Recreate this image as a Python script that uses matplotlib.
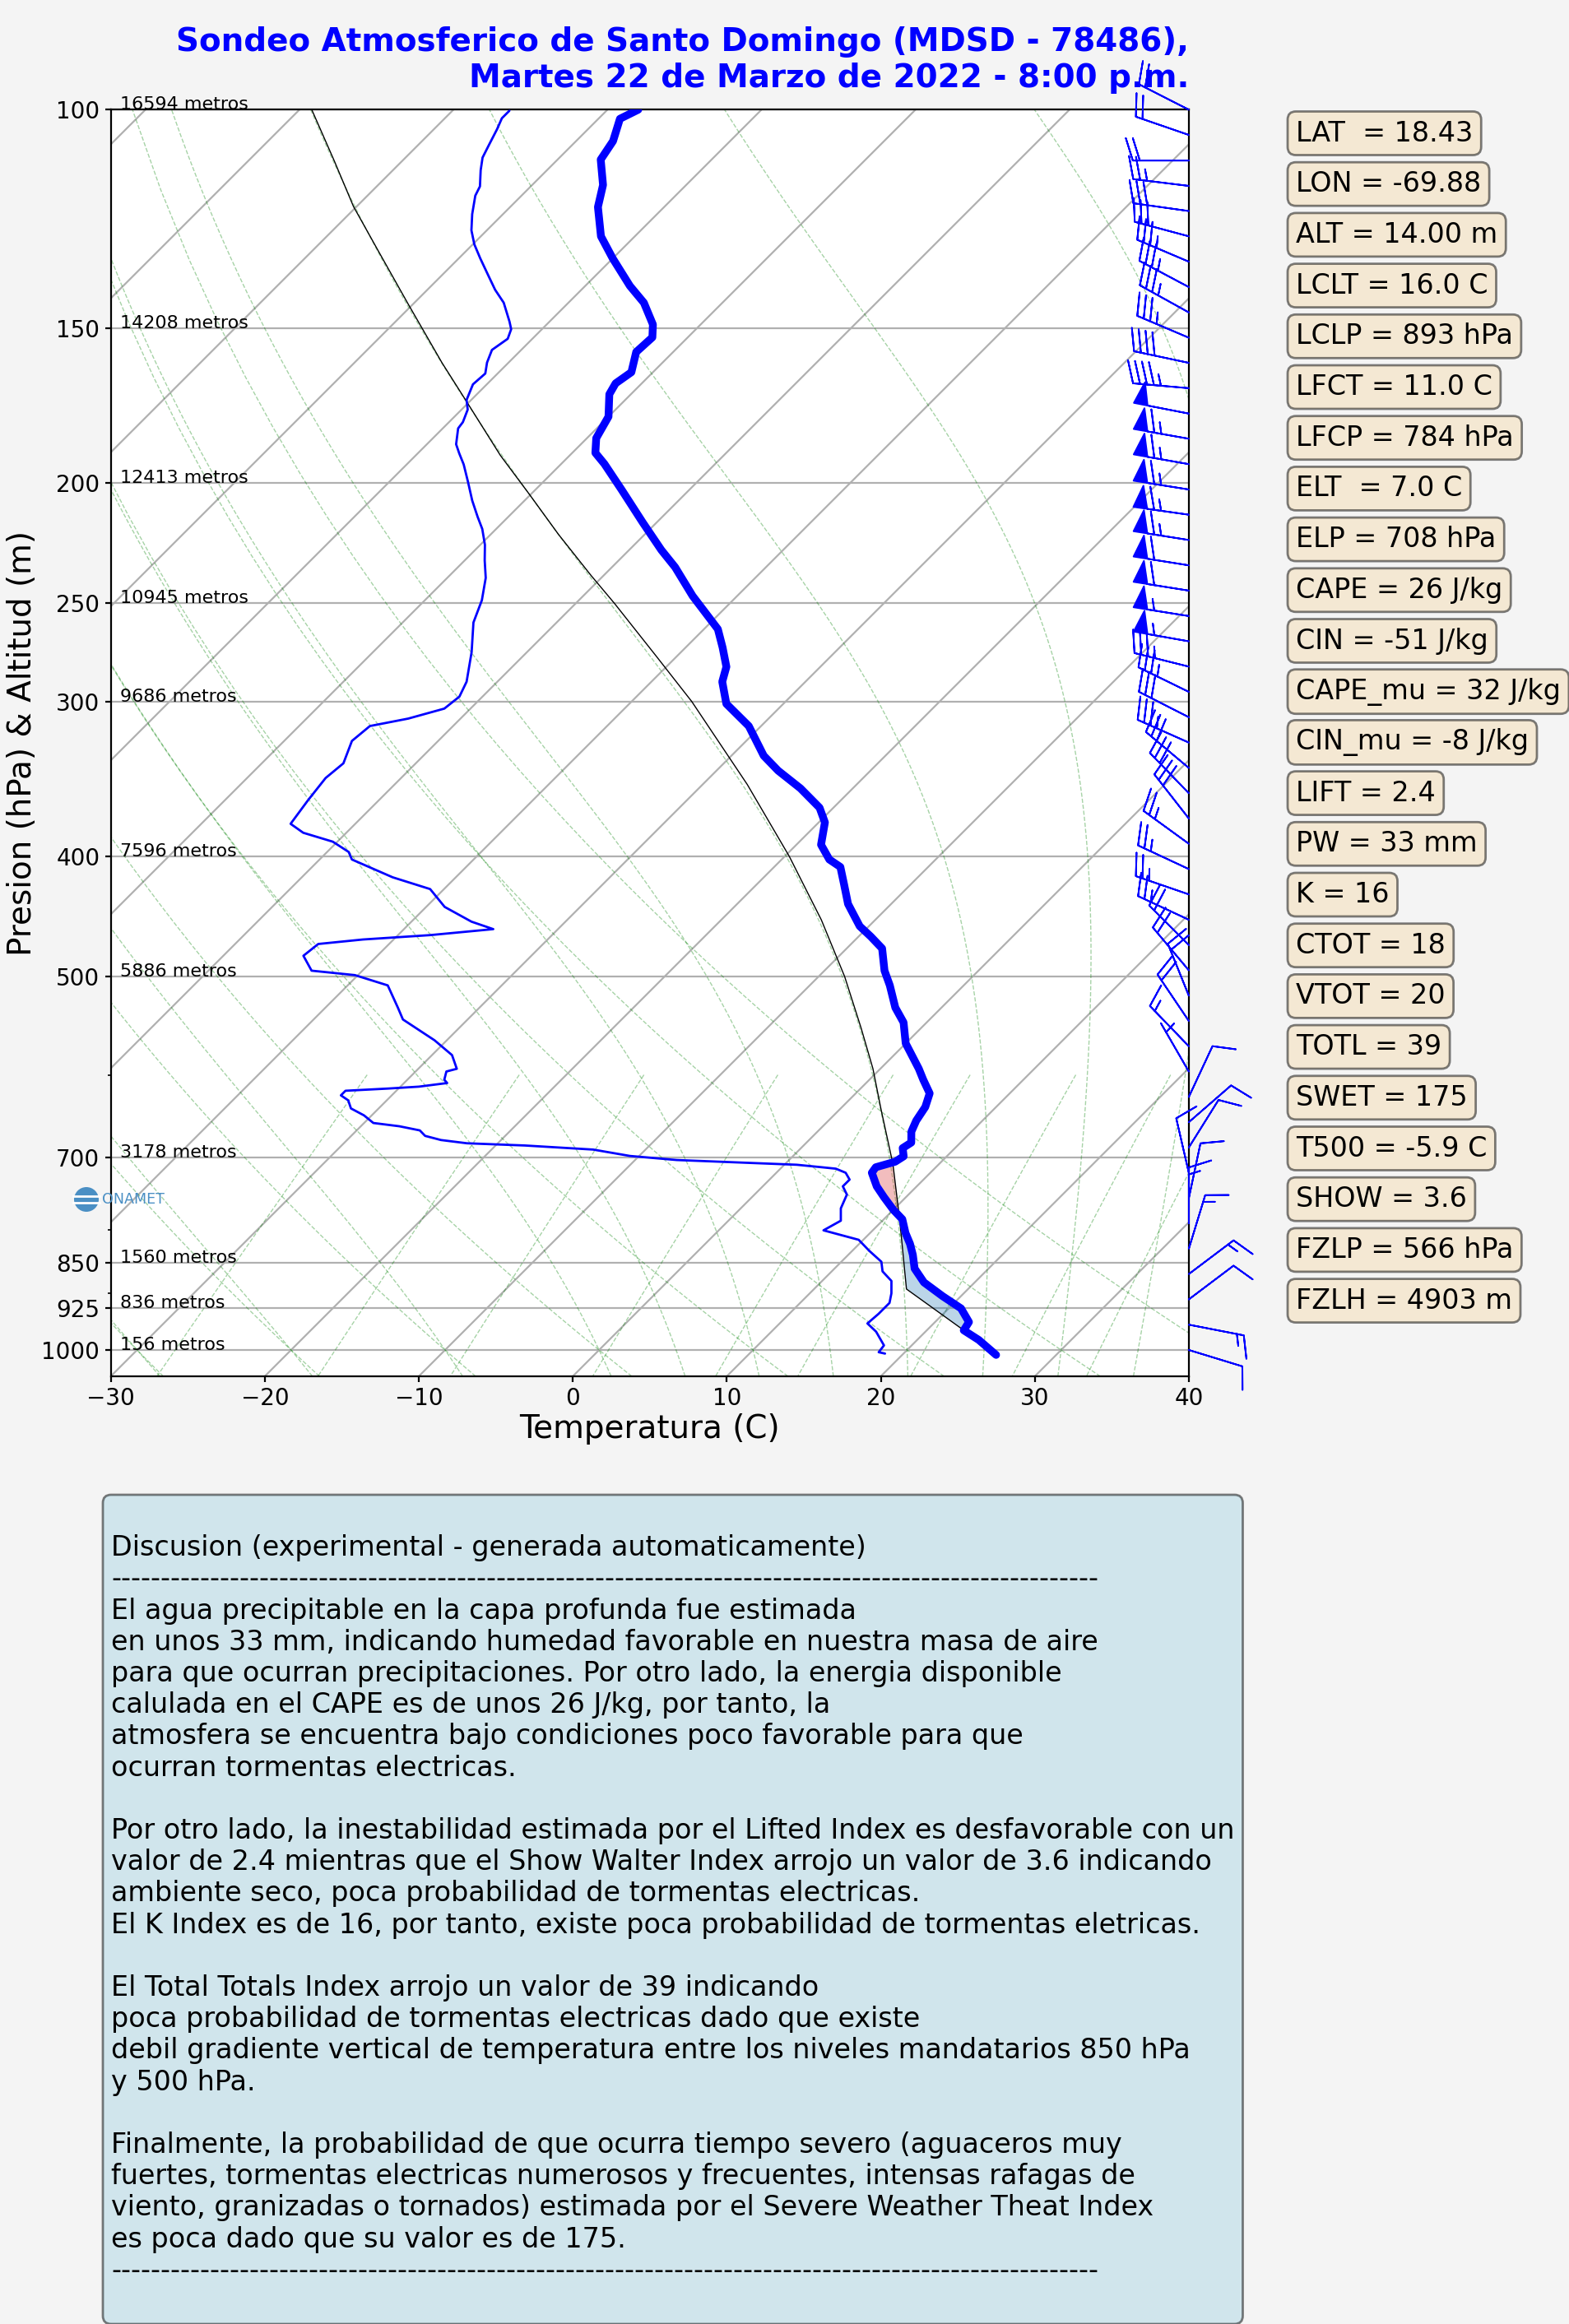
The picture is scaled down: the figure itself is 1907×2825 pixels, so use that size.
import numpy as np
import matplotlib
matplotlib.use("Agg")
import matplotlib.pyplot as plt
from matplotlib.ticker import FixedLocator, FixedFormatter, NullFormatter
from matplotlib.patches import Ellipse
from matplotlib.lines import Line2D

# ---------------- sounding data ----------------
# Temperature (thick blue line): pressure hPa, temperature C
temp_p = [1009.2, 981.5, 964.1, 949.4, 925.7, 904.8, 882.0, 859.7, 838.2, 821.2,
          804.8, 784.5, 770.8, 753.3, 738.0, 719.6, 712.3, 705.0, 698.0, 687.4,
          680.4, 666.8, 653.3, 636.9, 621.0, 605.5, 593.3, 566.0, 544.4, 529.6,
          508.2, 494.5, 474.5, 464.2, 455.3, 436.9, 421.6, 407.9, 402.3, 391.4,
          375.5, 365.4, 352.5, 341.1, 331.8, 314.0, 301.3, 289.2, 281.3, 271.4,
          262.3, 246.6, 233.8, 226.5, 215.2, 202.5, 193.0, 189.1, 184.0, 176.8,
          169.6, 166.2, 162.8, 156.8, 152.6, 149.0, 143.1, 138.7, 131.8, 126.5,
          119.8, 115.0, 109.7, 106.0, 101.7, 100.0]
temp_c = [26.1, 24.0, 22.4, 22.2, 20.8, 18.8, 16.7, 15.2, 14.2, 13.3,
          12.3, 11.2, 10.0, 8.6, 7.4, 6.2, 6.1, 7.0, 7.2, 6.6,
          6.8, 6.1, 5.7, 5.4, 4.8, 3.5, 2.5, 0.0, -1.5, -3.0,
          -4.8, -6.1, -7.7, -9.2, -10.6, -12.8, -14.3, -15.7, -16.9, -18.4,
          -19.6, -20.9, -23.4, -26.0, -27.9, -30.8, -33.7, -35.4, -36.1, -37.6,
          -39.1, -42.9, -45.9, -47.9, -50.9, -54.4, -57.2, -58.5, -59.4, -60.0,
          -61.4, -61.7, -61.4, -62.4, -62.3, -63.1, -65.1, -67.1, -70.0, -72.2,
          -74.3, -75.4, -77.2, -77.6, -78.6, -78.0]

# Dewpoint (thin blue line)
dew_p = [1006.7, 1004.1, 991.5, 966.6, 951.9, 935.1, 916.3, 900.1, 879.7, 864.2,
         848.9, 831.8, 815.0, 800.8, 786.6, 768.8, 749.4, 738.0, 728.8, 719.6,
         714.2, 712.3, 709.0, 702.8, 697.5, 689.3, 684.1, 681.3, 677.2, 672.0,
         665.2, 660.1, 656.1, 646.9, 638.6, 629.1, 623.3, 618.0, 615.5, 613.3,
         609.2, 605.5, 596.3, 593.3, 578.4, 562.7, 541.4, 529.6, 508.2, 498.6,
         494.5, 481.0, 470.6, 466.7, 462.9, 457.8, 451.5, 439.3, 425.0, 415.8,
         402.3, 396.7, 389.2, 382.8, 376.5, 360.4, 345.8, 336.5, 322.8, 314.0,
         309.7, 304.0, 297.3, 289.2, 273.7, 259.1, 248.6, 238.5, 230.9, 224.3,
         217.8, 212.9, 206.6, 199.5, 193.2, 189.3, 186.1, 180.7, 178.6, 174.5,
         171.4, 166.5, 163.2, 159.9, 156.2, 153.0, 150.3, 148.2, 143.1, 139.7,
         135.7, 131.8, 128.4, 125.1, 121.4, 117.3, 115.3, 111.9, 109.3, 106.8,
         103.7, 101.6, 100.2]
dew_c = [18.8, 18.3, 18.2, 16.8, 15.7, 15.8, 15.8, 15.3, 14.5, 13.3,
         12.6, 11.1, 9.7, 6.8, 7.3, 6.5, 6.0, 5.2, 5.2, 4.5,
         3.6, 2.6, 0.8, -7.3, -10.6, -13.4, -18.1, -22.0, -23.9, -25.2,
         -25.9, -27.5, -29.4, -30.5, -31.8, -32.5, -33.3, -33.3, -30.7, -28.8,
         -27.2, -27.6, -28.0, -27.5, -28.7, -30.8, -34.2, -35.3, -37.4, -40.2,
         -43.3, -44.8, -44.6, -42.0, -37.9, -34.2, -36.1, -38.8, -40.9, -44.1,
         -47.9, -48.6, -50.3, -52.8, -54.2, -54.6, -54.9, -54.7, -55.6, -55.4,
         -53.4, -51.7, -51.5, -52.0, -53.6, -55.4, -56.3, -57.5, -58.7, -59.7,
         -60.9, -62.0, -63.4, -64.9, -66.3, -67.3, -68.1, -69.0, -69.1, -69.6,
         -70.3, -70.9, -70.8, -71.4, -71.9, -71.6, -72.0, -72.6, -74.2, -75.6,
         -77.1, -78.6, -79.9, -81.0, -82.0, -83.0, -83.3, -84.3, -85.0, -85.4,
         -85.9, -86.3, -86.3]

# Parcel path (thin black line)
parcel_p = [978, 893, 784, 708, 640, 593, 550, 500, 450, 400,
            350, 300, 276, 250, 237.5, 220, 204.2, 190, 171.9, 160,
            143.5, 130, 119.7, 110, 100]
parcel_c = [23.6, 16.0, 11.0, 7.0, 2.7, -0.5, -3.9, -8.3, -13.5, -19.7,
            -27.1, -36.1, -41.3, -47.5, -50.8, -55.6, -60.1, -64.5, -70.2, -74.3,
            -80.3, -85.7, -90.2, -94.4, -99.2]
lfc_p = 784
el_p = 708

# Wind barbs (knots, direction wind comes from)
barb_p = [1000, 954.1, 910.3, 868.5, 828.6, 790.6, 754.3, 719.7, 686.6, 655.1,
          625.1, 596.4, 569.0, 542.9, 518.0, 494.2, 471.5, 449.9, 429.2, 409.5,
          390.7, 372.8, 355.7, 339.4, 323.8, 308.9, 294.7, 281.2, 268.3, 256.0,
          244.2, 233.0, 222.3, 212.1, 202.4, 193.1, 184.2, 175.8, 167.7, 160.0,
          152.7, 145.7, 139.0, 132.6, 126.5, 120.7, 115.2, 109.9, 104.8, 100.0]
barb_spd = [10, 15, 10, 15, 15, 15, 10, 10, 10, 10,
            10, 5, 15, 20, 20, 20, 20, 25, 25, 25,
            25, 30, 30, 30, 35, 30, 35, 35, 55, 55,
            60, 60, 65, 65, 65, 65, 65, 50, 45, 40,
            35, 35, 35, 35, 30, 30, 25, 20, 20, 20]
barb_dir = [107, 101, 53, 53, 17, 0, 12, 347, 32, 49,
            25, 330, 316, 326, 338, 320, 315, 295, 289, 295,
            306, 322, 316, 310, 294, 297, 296, 284, 280, 279,
            279, 279, 279, 278, 279, 280, 280, 281, 275, 282,
            293, 299, 298, 293, 285, 278, 277, 270, 289, 297]

# Heights of mandatory levels
height_p = [100, 150, 200, 250, 300, 400, 500, 700, 850, 925, 1000]
height_m = [16594, 14208, 12413, 10945, 9686, 7596, 5886, 3178, 1560, 836, 156]

ytick_vals = [100, 150, 200, 250, 300, 400, 500, 700, 850, 925, 1000]
xtick_vals = [-30, -20, -10, 0, 10, 20, 30, 40]

stat_names = ["LAT ", "LON", "ALT", "LCLT", "LCLP", "LFCT", "LFCP", "ELT ", "ELP",
              "CAPE", "CIN", "CAPE_mu", "CIN_mu", "LIFT", "PW", "K", "CTOT", "VTOT",
              "TOTL", "SWET", "T500", "SHOW", "FZLP", "FZLH"]
stat_values = ["18.43", "-69.88", "14.00 m", "16.0 C", "893 hPa", "11.0 C", "784 hPa",
               "7.0 C", "708 hPa", "26 J/kg", "-51 J/kg", "32 J/kg", "-8 J/kg", "2.4",
               "33 mm", "16", "18", "20", "39", "175", "-5.9 C", "3.6", "566 hPa", "4903 m"]

title_text = ("Sondeo Atmosferico de Santo Domingo (MDSD - 78486),\n"
              "Martes 22 de Marzo de 2022 - 8:00 p.m.")

dash_line = "-" * 100
discussion = "\n".join([
    "",
    "Discusion (experimental - generada automaticamente)",
    dash_line,
    "El agua precipitable en la capa profunda fue estimada",
    "en unos 33 mm, indicando humedad favorable en nuestra masa de aire",
    "para que ocurran precipitaciones. Por otro lado, la energia disponible",
    "calulada en el CAPE es de unos 26 J/kg, por tanto, la",
    "atmosfera se encuentra bajo condiciones poco favorable para que",
    "ocurran tormentas electricas.",
    "",
    "Por otro lado, la inestabilidad estimada por el Lifted Index es desfavorable con un",
    "valor de 2.4 mientras que el Show Walter Index arrojo un valor de 3.6 indicando",
    "ambiente seco, poca probabilidad de tormentas electricas.",
    "El K Index es de 16, por tanto, existe poca probabilidad de tormentas eletricas.",
    "",
    "El Total Totals Index arrojo un valor de 39 indicando",
    "poca probabilidad de tormentas electricas dado que existe",
    "debil gradiente vertical de temperatura entre los niveles mandatarios 850 hPa",
    "y 500 hPa.",
    "",
    "Finalmente, la probabilidad de que ocurra tiempo severo (aguaceros muy",
    "fuertes, tormentas electricas numerosos y frecuentes, intensas rafagas de",
    "viento, granizadas o tornados) estimada por el Severe Weather Theat Index",
    "es poca dado que su valor es de 175.",
    dash_line,
    "",
])

# ---------------- figure ----------------
plt.rcParams['font.family'] = ['DejaVu Sans']
DPI = 200
fig = plt.figure(figsize=(1907 / DPI, 2825 / DPI), dpi=DPI, facecolor='#f4f4f4')
AX_RECT = [0.0706, 0.4078, 0.6871, 0.5450]
ax = fig.add_axes(AX_RECT)
ax.set_facecolor('white')
ax.set_yscale('log')

P_BOT, P_TOP = 1050.0, 100.0
T_MIN, T_MAX = -30.0, 40.0
W_px = fig.get_figwidth() * DPI * AX_RECT[2]
H_px = fig.get_figheight() * DPI * AX_RECT[3]
SKEW = (H_px / np.log10(P_BOT / P_TOP)) / (W_px / (T_MAX - T_MIN))   # 45 degree skew


def skx(t, p):
    return np.asarray(t, dtype=float) + SKEW * np.log10(P_BOT / np.asarray(p, dtype=float))


# ---- background: isotherms ----
for t in range(-160, 50, 10):
    ax.plot(skx([t, t], [P_BOT, P_TOP]), [P_BOT, P_TOP], color='#b0b0b0', lw=0.8, zorder=1)

# ---- dry adiabats ----
Rd, Cp, Lv, EPS = 287.04, 1005.7, 2.501e6, 0.622
KAPPA = Rd / Cp
p_lines = np.linspace(P_BOT, P_TOP, 60)
bg_style = dict(color='green', lw=0.5, ls='--', alpha=0.35, zorder=1)
for t0 in np.arange(T_MIN, T_MAX + 1, 10):
    th = t0 + 273.15
    tt = th * (p_lines / 1000.0) ** KAPPA - 273.15
    ax.plot(skx(tt, p_lines), p_lines, **bg_style)


# ---- moist adiabats ----
def esat(tc):
    return 6.112 * np.exp(17.67 * tc / (tc + 243.5))


def dtdp(p, tk):
    es = esat(tk - 273.15)
    rs = EPS * es / np.maximum(p - es, 1.0)
    return (Rd * tk + Lv * rs) / (Cp + Lv * Lv * rs * EPS / (Rd * tk * tk)) / p


def integrate(ps, tk):
    out = [tk]
    for i in range(len(ps) - 1):
        h = ps[i + 1] - ps[i]
        p = ps[i]
        k1 = dtdp(p, tk)
        k2 = dtdp(p + h / 2, tk + h / 2 * k1)
        k3 = dtdp(p + h / 2, tk + h / 2 * k2)
        k4 = dtdp(p + h, tk + h * k3)
        tk = tk + h / 6 * (k1 + 2 * k2 + 2 * k3 + k4)
        out.append(tk)
    return np.array(out)


moist_t0 = np.concatenate((np.arange(T_MIN, 0, 10), np.arange(0, T_MAX + 1, 5))).astype(float) + 273.15
p_up = np.linspace(1000, P_TOP, 200)
p_dn = np.linspace(1000, P_BOT, 10)
t_up = integrate(p_up, moist_t0)
t_dn = integrate(p_dn, moist_t0)
p_m = np.concatenate((p_dn[::-1], p_up[1:]))
t_m = np.concatenate((t_dn[::-1], t_up[1:]), axis=0) - 273.15
for j in range(len(moist_t0)):
    ax.plot(skx(t_m[:, j], p_m), p_m, **bg_style)

# ---- mixing ratio lines ----
p_mix = np.linspace(600, P_BOT, 40)
for w in [0.0004, 0.001, 0.002, 0.004, 0.007, 0.01, 0.016, 0.024, 0.032]:
    e = p_mix * w / (EPS + w)
    le = np.log(e / 6.112)
    td = 243.5 * le / (17.67 - le)
    ax.plot(skx(td, p_mix), p_mix, **bg_style)

# ---- CAPE / CIN shading ----
pg = np.geomspace(parcel_p[0], el_p, 500)
lp_env = np.log(np.array(temp_p)[::-1])
te = np.interp(np.log(pg), lp_env, np.array(temp_c)[::-1])
tp = np.interp(np.log(pg), np.log(np.array(parcel_p)[::-1]), np.array(parcel_c)[::-1])
ax.fill_betweenx(pg, skx(te, pg), skx(tp, pg), where=(tp > te) & (pg <= lfc_p + 2),
                 interpolate=True, facecolor='tab:red', alpha=0.3, lw=0, zorder=3)
ax.fill_betweenx(pg, skx(te, pg), skx(tp, pg), where=(tp < te) & (pg >= lfc_p - 2),
                 interpolate=True, facecolor='tab:blue', alpha=0.3, lw=0, zorder=3)

# ---- profiles ----
ax.plot(skx(temp_c, temp_p), temp_p, color='blue', lw=3.4, solid_capstyle='round',
        solid_joinstyle='round', zorder=5)
ax.plot(skx(dew_c, dew_p), dew_p, color='blue', lw=1.0, solid_capstyle='round',
        solid_joinstyle='round', zorder=5)
ax.plot(skx(parcel_c, parcel_p), parcel_p, color='black', lw=0.5, zorder=4)

# ---- wind barbs on the right edge ----
spd = np.array(barb_spd, dtype=float)
ang = np.radians(barb_dir)
bu = -spd * np.sin(ang)
bv = -spd * np.cos(ang)
ax.barbs(np.ones(len(barb_p)), barb_p, bu, bv, transform=ax.get_yaxis_transform(),
         color='blue', length=7, linewidth=0.7, clip_on=False, zorder=6)

# ---- axes, ticks, grid ----
ax.set_xlim(T_MIN, T_MAX)
ax.set_ylim(P_BOT, P_TOP)
ax.set_xticks(xtick_vals)
ax.yaxis.set_major_locator(FixedLocator(ytick_vals))
ax.yaxis.set_major_formatter(FixedFormatter([str(v) for v in ytick_vals]))
ax.yaxis.set_minor_locator(FixedLocator([600, 800, 900]))
ax.yaxis.set_minor_formatter(NullFormatter())
ax.yaxis.grid(True, color='#b0b0b0', lw=0.8, zorder=1)
ax.tick_params(axis='both', which='major', labelsize=10, length=2.5, pad=2.3)
ax.tick_params(axis='both', which='minor', length=1.5)
ax.set_axisbelow(True)
ax.set_xlabel('Temperatura (C)', fontsize=14, labelpad=1.5)
ax.set_ylabel('Presion (hPa) & Altitud (m)', fontsize=14, labelpad=1.5)
ax.set_title(title_text, loc='right', fontsize=14, fontweight='bold', color='blue', pad=10)

# height labels
for p, h in zip(height_p, height_m):
    ax.text(0.0085, p, f"{h} metros", transform=ax.get_yaxis_transform(),
            fontsize=8, va='baseline', ha='left', zorder=7)

# ---- ONAMET logo (approximation) ----
lx, ly = 105 / 1907, 1 - 1458 / 2825
fig.patches.append(Ellipse((lx, ly), 30 / 1907, 30 / 2825, transform=fig.transFigure,
                           facecolor='#4a8fc4', edgecolor='none', zorder=8))
for dy in (-4, 4):
    fig.lines.append(Line2D([lx - 16 / 1907, lx + 16 / 1907], [ly + dy / 2825] * 2,
                            transform=fig.transFigure, color='white', lw=1.0, zorder=9))
fig.text(124 / 1907, ly, 'ONAMET', color='#4a8fc4', fontsize=6.3, va='center', ha='left')

# ---- index boxes ----
box_props = dict(boxstyle='round', facecolor='wheat', alpha=0.5)
for i, (nm, val) in enumerate(zip(stat_names, stat_values)):
    ypx = 162 + 61.7 * i
    fig.text(1575 / 1907, 1 - ypx / 2825, f"{nm} = {val}", fontsize=12,
             va='center', ha='left', bbox=box_props)

# ---- discussion box ----
disc_props = dict(boxstyle='round', facecolor='lightblue', alpha=0.5)
fig.text(135 / 1907, 1 - 1827 / 2825, discussion, fontsize=12, va='top', ha='left',
         linespacing=1.2, bbox=disc_props)

fig.savefig('out.png', dpi=DPI, facecolor=fig.get_facecolor())
